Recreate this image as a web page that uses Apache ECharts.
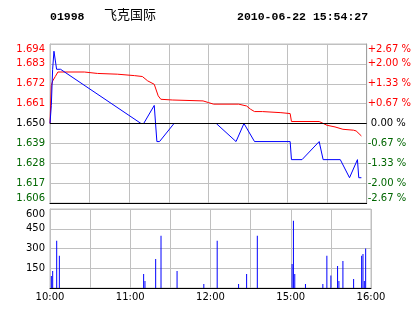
<!DOCTYPE html>
<html><head><meta charset="utf-8">
<script src="https://cdn.jsdelivr.net/npm/echarts@6/dist/echarts.min.js"></script>
<style>html,body{margin:0;padding:0;background:#fff}#c{width:414px;height:314px}</style>
</head><body><div id="c"></div>
<script>
// ---- data ----
const stockCode = '01998';
const stockName = '飞克国际';
const stampText = '2010-06-22 15:54:27';
const prevClose = 1.65;
// minutes since the 10:00 open (morning 10:00-12:30, afternoon 14:30-16:00)
const priceMinutes = [0,1,2,3,5,8,69,71,79,81,83,94,126,141,147,155,182,183,191,204,207,220,227,233,234,236];
const prices = [1.65,1.66,1.68,1.69,1.68,1.68,1.65,1.65,1.66,1.64,1.64,1.65,1.65,1.64,1.65,1.64,1.64,1.63,1.63,1.64,1.63,1.63,1.62,1.63,1.62,1.62];
const avgMinutes = [0,1,2,4,6,26,27,36,37,51,52,64,65,70,74,79,82,84,85,93,94,116,120,124,143,149,152,155,161,162,175,176,182,183,204,210,216,222,230,232,236];
const avgPrices = [1.650,1.671,1.6735,1.676,1.6785,1.6785,1.6777,1.6777,1.6773,1.6773,1.6765,1.6765,1.676,1.676,1.6736,1.6717,1.6653,1.6634,1.663,1.663,1.6625,1.6625,1.6616,1.6607,1.6607,1.6597,1.6579,1.6566,1.6566,1.656,1.656,1.6555,1.6555,1.6511,1.6511,1.649,1.6481,1.6468,1.6463,1.6459,1.6431];
const volMinutes = [1,2,5,7,70,71,79,83,95,115,125,141,147,155,181,182,183,191,204,207,210,215,216,219,227,233,234,235,236];
const volumes = [91,130,358,244,107,53,221,396,130,30,358,30,107,396,183,511,107,30,30,244,94,168,53,206,69,244,259,53,300];
const tickMinutes = [0,60,120,180,240];
const tickLabels = ['10:00','11:00','12:00','15:00','16:00'];
const priceMin = 1.606, priceMax = 1.694, priceStep = 0.011;
const volMax = 600, volStep = 150;

const zip = (a, b) => a.map((v, i) => [v, b[i]]);
const RED = '#ff0000', GREEN = '#006600', GRID = '#c0c0c0';
const labelFont = { fontFamily: 'DejaVu Sans', fontSize: 10 };
function sideColor(v) {
  const k = Math.round(parseFloat(v) * 1000), c = Math.round(prevClose * 1000);
  return k > c ? RED : (k < c ? GREEN : '#000');
}

const chart = echarts.init(document.getElementById('c'), null, { renderer: 'canvas' });
chart.setOption({
  animation: false,
  backgroundColor: '#fff',
  title: [
    { text: stockCode, left: 50, top: 11, padding: 0, textStyle: { fontFamily: 'Liberation Mono', fontWeight: 'bold', fontSize: 11.5, color: '#000' } },
    { text: stockName, left: 104, top: 8, padding: 0, textStyle: { fontFamily: 'Noto Sans CJK SC', fontWeight: 'normal', fontSize: 13, color: '#000' } },
    { text: stampText, left: 237, top: 11, padding: 0, textStyle: { fontFamily: 'Liberation Mono', fontWeight: 'bold', fontSize: 11.5, color: '#000' } }
  ],
  grid: [
    { left: 50, right: 43, top: 44, height: 159, show: true, borderColor: GRID, borderWidth: 1 },
    { left: 50, right: 43, top: 209, height: 79, show: true, borderColor: GRID, borderWidth: 1 }
  ],
  xAxis: [
    { type: 'value', gridIndex: 0, min: 0, max: 240, interval: 30,
      axisLine: { show: true, lineStyle: { color: '#000', width: 1 } }, axisTick: { show: false },
      axisLabel: { show: false }, splitLine: { show: true, lineStyle: { color: GRID } } },
    { type: 'value', gridIndex: 1, min: 0, max: 240, interval: 30,
      axisLine: { show: true, lineStyle: { color: '#000', width: 1 } }, axisTick: { show: false },
      axisLabel: { ...labelFont, color: '#000', margin: 4, showMinLabel: true, showMaxLabel: true,
        formatter: v => { const i = tickMinutes.indexOf(Math.round(v)); return i >= 0 ? tickLabels[i] : ''; } },
      splitLine: { show: true, lineStyle: { color: GRID } } }
  ],
  yAxis: [
    { type: 'value', gridIndex: 0, position: 'left', min: priceMin, max: priceMax, interval: priceStep,
      axisLine: { show: true, lineStyle: { color: GRID } }, axisTick: { show: false },
      splitLine: { show: true, lineStyle: { color: GRID } },
      axisLabel: { ...labelFont, margin: 5, color: v => sideColor(v),
        verticalAlignMinLabel: 'bottom', verticalAlignMaxLabel: 'top',
        formatter: v => parseFloat(v).toFixed(3) } },
    { type: 'value', gridIndex: 0, position: 'right', min: priceMin, max: priceMax, interval: priceStep,
      axisLine: { show: true, lineStyle: { color: '#a0a0a0' } }, axisTick: { show: false },
      splitLine: { show: false },
      axisLabel: { ...labelFont, margin: 1, color: v => sideColor(v),
        verticalAlignMinLabel: 'bottom', verticalAlignMaxLabel: 'top',
        formatter: v => { const p = (parseFloat(v) - prevClose) / prevClose * 100; const s = Math.abs(p) < 0.005 ? '0.00' : (p > 0 ? '+' : '-') + Math.abs(p).toFixed(2); return (Math.abs(p) < 0.005 ? ' ' : '') + s + ' %'; } } },
    { type: 'value', gridIndex: 1, min: 0, max: volMax, interval: volStep,
      axisLine: { show: true, lineStyle: { color: GRID } }, axisTick: { show: false },
      splitLine: { show: true, lineStyle: { color: GRID } },
      axisLabel: { ...labelFont, margin: 5, color: '#000', showMinLabel: false, verticalAlignMaxLabel: 'top' } }
  ],
  series: [
    { type: 'line', xAxisIndex: 0, yAxisIndex: 0, data: zip(avgMinutes, avgPrices), showSymbol: false,
      lineStyle: { color: RED, width: 1 }, itemStyle: { color: RED }, silent: true, z: 3 },
    { type: 'line', xAxisIndex: 0, yAxisIndex: 0, data: zip(priceMinutes, prices), showSymbol: false,
      lineStyle: { color: '#0000ff', width: 1 }, itemStyle: { color: '#0000ff' }, silent: true, z: 4,
      markLine: { silent: true, symbol: 'none', label: { show: false },
        lineStyle: { color: '#000', width: 1, type: 'solid' }, data: [{ yAxis: prevClose }] } },
    { type: 'bar', xAxisIndex: 1, yAxisIndex: 2, data: zip(volMinutes, volumes), barWidth: 1,
      itemStyle: { color: '#0000ff' }, silent: true }
  ]
});
</script></body></html>
